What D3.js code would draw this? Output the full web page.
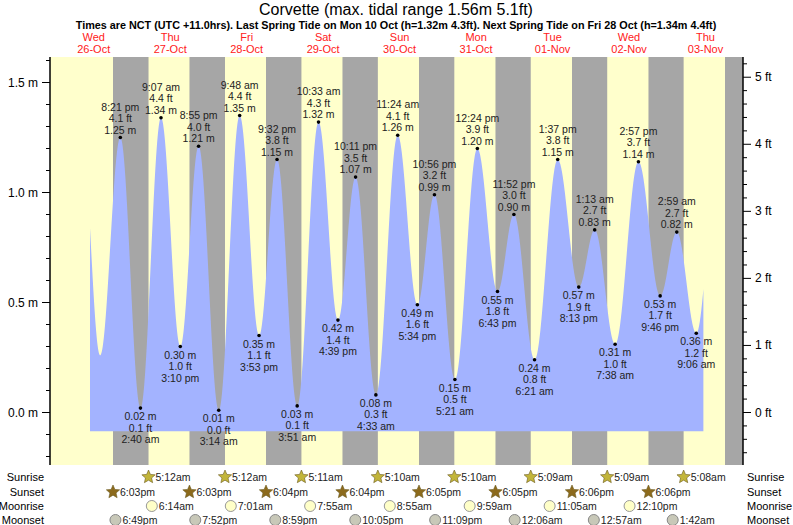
<!DOCTYPE html>
<html><head><meta charset="utf-8">
<script src="https://cdn.jsdelivr.net/npm/d3@7"></script>
<style>body{margin:0;background:#fff}text{font-family:"Liberation Sans",Arial,sans-serif}</style>
</head><body><svg id="c" width="793" height="525"></svg>
<script>
// tide extremes: [datetime, metres]  (first & last are off-chart context points)
const tideTimes = ["2022-10-26T08:10","2022-10-26T14:00","2022-10-26T20:21","2022-10-27T02:40","2022-10-27T09:07","2022-10-27T15:10","2022-10-27T20:55","2022-10-28T03:14","2022-10-28T09:48","2022-10-28T15:53","2022-10-28T21:32","2022-10-29T03:51","2022-10-29T10:33","2022-10-29T16:39","2022-10-29T22:11","2022-10-30T04:33","2022-10-30T11:24","2022-10-30T17:34","2022-10-30T22:56","2022-10-31T05:21","2022-10-31T12:24","2022-10-31T18:43","2022-10-31T23:52","2022-11-01T06:21","2022-11-01T13:37","2022-11-01T20:13","2022-11-02T01:13","2022-11-02T07:38","2022-11-02T14:57","2022-11-02T21:46","2022-11-03T02:59","2022-11-03T09:06","2022-11-03T15:30"];
const tideHeights = [1.28,0.26,1.25,0.02,1.34,0.30,1.21,0.01,1.35,0.35,1.15,0.03,1.32,0.42,1.07,0.08,1.26,0.49,0.99,0.15,1.20,0.55,0.90,0.24,1.15,0.57,0.83,0.31,1.14,0.53,0.82,0.36,1.10];
const tideLabels = ["","","8:21 pm","2:40 am","9:07 am","3:10 pm","8:55 pm","3:14 am","9:48 am","3:53 pm","9:32 pm","3:51 am","10:33 am","4:39 pm","10:11 pm","4:33 am","11:24 am","5:34 pm","10:56 pm","5:21 am","12:24 pm","6:43 pm","11:52 pm","6:21 am","1:37 pm","8:13 pm","1:13 am","7:38 am","2:57 pm","9:46 pm","2:59 am","9:06 am",""];
const tideFt = ["","","4.1","0.1","4.4","1.0","4.0","0.0","4.4","1.1","3.8","0.1","4.3","1.4","3.5","0.3","4.1","1.6","3.2","0.5","3.9","1.8","3.0","0.8","3.8","1.9","2.7","1.0","3.7","1.7","2.7","1.2",""];
const dataStart = "2022-10-26T10:50", dataEnd = "2022-11-03T11:20";
const dayNames = ["Wed","Thu","Fri","Sat","Sun","Mon","Tue","Wed","Thu"];
const dayDates = ["26-Oct","27-Oct","28-Oct","29-Oct","30-Oct","31-Oct","01-Nov","02-Nov","03-Nov"];
const sunsets = ["2022-10-26T18:03","2022-10-27T18:03","2022-10-28T18:04","2022-10-29T18:04","2022-10-30T18:05","2022-10-31T18:05","2022-11-01T18:06","2022-11-02T18:06","2022-11-03T18:07"];
const sunsetLbl = ["6:03pm","6:03pm","6:04pm","6:04pm","6:05pm","6:05pm","6:06pm","6:06pm",""];
const sunrises = ["2022-10-27T05:12","2022-10-28T05:12","2022-10-29T05:11","2022-10-30T05:10","2022-10-31T05:10","2022-11-01T05:09","2022-11-02T05:09","2022-11-03T05:08","2022-11-04T05:08"];
const sunriseLbl = ["5:12am","5:12am","5:11am","5:10am","5:10am","5:09am","5:09am","5:08am",""];
const moonrises = ["2022-10-27T06:14","2022-10-28T07:01","2022-10-29T07:55","2022-10-30T08:55","2022-10-31T09:59","2022-11-01T11:05","2022-11-02T12:10"];
const moonriseLbl = ["6:14am","7:01am","7:55am","8:55am","9:59am","11:05am","12:10pm"];
const moonsets = ["2022-10-26T18:49","2022-10-27T19:52","2022-10-28T20:59","2022-10-29T22:05","2022-10-30T23:09","2022-11-01T00:06","2022-11-02T00:57","2022-11-03T01:42"];
const moonsetLbl = ["6:49pm","7:52pm","8:59pm","10:05pm","11:09pm","12:06am","12:57am","1:42am"];
const leftTicks = [0.0,0.5,1.0,1.5], rightTicks=[0,1,2,3,4,5];

const P = s => new Date(s+":00");
const svg = d3.select("#c");
const L=50,R=743,T=57,B=465;
const t0=P("2022-10-26T18:03"), t1=P("2022-11-03T18:07");
const x = d3.scaleTime().domain([t0,t1]).range([113,725]);
const y = d3.scaleLinear().domain([0,1.5]).range([412.5,82.5]);
const yf = d3.scaleLinear().domain([0,1.5/0.3048]).range([412.5,82.5]);

svg.append("rect").attr("x",L).attr("y",T).attr("width",R-L).attr("height",B-T).attr("fill","#ffffcc");
sunsets.forEach((s,i)=>{const a=Math.max(x(P(s)),L),b=Math.min(x(P(sunrises[i])),R); if(b>a)svg.append("rect").attr("x",a).attr("y",T).attr("width",b-a).attr("height",B-T).attr("fill","#a6a6a6");});

const ext = tideTimes.map((t,i)=>({t:P(t),h:tideHeights[i]}));
const ds=P(dataStart), de=P(dataEnd), pts=[];
for(let m=+ds;m<=+de;m+=5*60000){
  const k=ext.findIndex((e,i)=>i<ext.length-1&&+ext[i+1].t>=m);
  const a=ext[k],b=ext[k+1],f=(m-a.t)/(b.t-a.t);
  pts.push({t:new Date(m),h:a.h+(b.h-a.h)*(1-Math.cos(Math.PI*f))/2});
}
svg.append("path").datum(pts).attr("fill","#a3b3ff")
 .attr("d",d3.area().x(d=>x(d.t)).y0(y(-0.085)).y1(d=>y(d.h)));

ext.forEach((e,i)=>{ if(!tideLabels[i])return;
  const cx=x(e.t), cy=y(e.h), high=(i%2==0);
  svg.append("circle").attr("cx",cx).attr("cy",cy).attr("r",1.8).attr("fill","#000");
  const lines = high?[tideLabels[i],tideFt[i]+" ft",e.h.toFixed(2)+" m"]:[e.h.toFixed(2)+" m",tideFt[i]+" ft",tideLabels[i]];
  lines.forEach((s,j)=>svg.append("text").attr("x",cx).attr("y",high?cy-4-(2-j)*11.5:cy+12+j*11.5)
    .attr("text-anchor","middle").attr("font-size",10.5).attr("fill","#222").text(s));
});

const ga=svg.append("g");
ga.append("line").attr("x1",L).attr("x2",L).attr("y1",T).attr("y2",B).attr("stroke","#000").attr("stroke-width",1.5);
ga.append("line").attr("x1",R).attr("x2",R).attr("y1",T).attr("y2",B).attr("stroke","#000").attr("stroke-width",1.5);
d3.range(-2,17).forEach(k=>{const v=k/10,yy=y(v); if(yy<T||yy>B)return;
  const maj=k%5==0; ga.append("line").attr("x1",L-(maj?8:4)).attr("x2",L).attr("y1",yy).attr("y2",yy).attr("stroke","#000");});
leftTicks.forEach(v=>ga.append("text").attr("x",L-12).attr("y",y(v)+4).attr("text-anchor","end").attr("font-size",12).text(v.toFixed(1)+" m"));
d3.range(-4,27).forEach(k=>{const v=k/5,yy=yf(v); if(yy<T||yy>B)return;
  const maj=k%5==0; ga.append("line").attr("x1",R).attr("x2",R+(maj?8:4)).attr("y1",yy).attr("y2",yy).attr("stroke","#000");});
rightTicks.forEach(v=>ga.append("text").attr("x",R+12).attr("y",yf(v)+4).attr("font-size",12).text(v+" ft"));

svg.append("text").attr("x",396).attr("y",15).attr("text-anchor","middle").attr("font-size",16).text("Corvette (max. tidal range 1.56m 5.1ft)");
svg.append("text").attr("x",396).attr("y",29).attr("text-anchor","middle").attr("font-size",10.8).attr("font-weight","bold")
 .text("Times are NCT (UTC +11.0hrs). Last Spring Tide on Mon 10 Oct (h=1.32m 4.3ft). Next Spring Tide on Fri 28 Oct (h=1.34m 4.4ft)");
dayNames.forEach((d,i)=>{const cx=x(new Date(2022,9,26+i,12,0));
  svg.append("text").attr("x",cx).attr("y",41).attr("text-anchor","middle").attr("font-size",11).attr("fill","#ff2020").text(d);
  svg.append("text").attr("x",cx).attr("y",53).attr("text-anchor","middle").attr("font-size",11).attr("fill","#ff2020").text(dayDates[i]);});

const rows=[["Sunrise",477],["Sunset",492],["Moonrise",506],["Moonset",520]];
rows.forEach(r=>{svg.append("text").attr("x",44).attr("y",r[1]+4).attr("text-anchor","end").attr("font-size",11).text(r[0]);
  svg.append("text").attr("x",747).attr("y",r[1]+4).attr("font-size",11).text(r[0]);});
const star=(cx,cy,fill)=>{const p=d3.range(10).map(k=>{const a=-Math.PI/2+k*Math.PI/5,rr=k%2?3.2:7;return[cx+rr*Math.cos(a),cy+rr*Math.sin(a)];});
  svg.append("polygon").attr("points",p.join(" ")).attr("fill",fill).attr("stroke","#6b5a20").attr("stroke-width",0.6);};
const ev=(times,lbls,yy,draw)=>times.forEach((t,i)=>{if(!lbls[i])return;const cx=x(P(t));draw(cx,yy);
  svg.append("text").attr("x",cx+7).attr("y",yy+4).attr("font-size",10.5).attr("fill","#222").text(lbls[i]);});
ev(sunrises,sunriseLbl,477,(cx,cy)=>star(cx,cy,"#c2b53a"));
ev(sunsets,sunsetLbl,492,(cx,cy)=>star(cx,cy,"#8c6a1c"));
ev(moonrises,moonriseLbl,506,(cx,cy)=>svg.append("circle").attr("cx",cx).attr("cy",cy).attr("r",5.5).attr("fill","#ffffc8").attr("stroke","#999"));
ev(moonsets,moonsetLbl,520,(cx,cy)=>svg.append("circle").attr("cx",cx).attr("cy",cy).attr("r",5.5).attr("fill","#c8c8b8").attr("stroke","#888"));
</script></body></html>
